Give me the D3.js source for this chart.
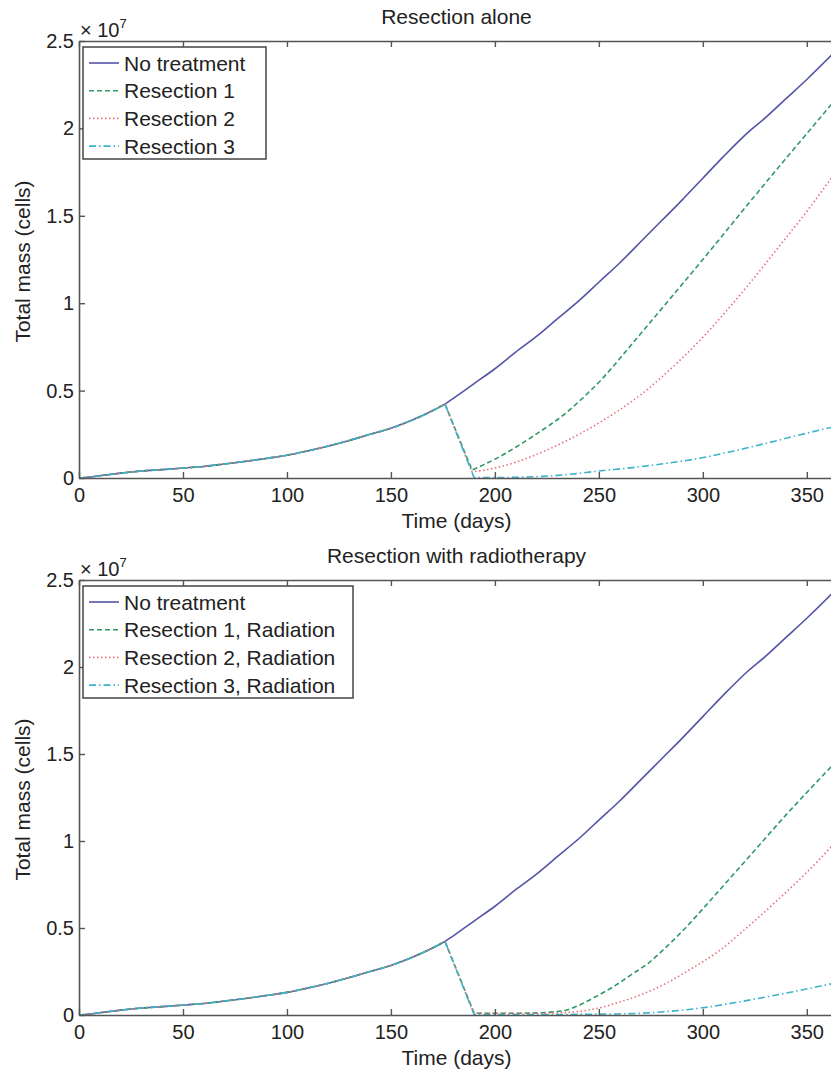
<!DOCTYPE html>
<html>
<head>
<meta charset="utf-8">
<script src="https://cdn.jsdelivr.net/npm/d3@7"></script>
<style>
  html, body { margin: 0; padding: 0; background: #fff; }
  svg { display: block; font-family: "Liberation Sans", Arial, sans-serif; }
</style>
</head>
<body>
<svg id="chart" width="831" height="1076"></svg>
<script>
// ---------------- DATA (mass in units of 1e7 cells) ----------------
const xTicks = [0, 50, 100, 150, 200, 250, 300, 350];
const yTicks = [0, 0.5, 1, 1.5, 2, 2.5];
const yTickLabels = ["0", "0.5", "1", "1.5", "2", "2.5"];

// growth before treatment (shared by all series)
const preDays = [0, 5, 10, 20, 30, 40, 50, 60, 70, 80, 90, 100, 110, 120, 130, 140, 150, 160, 170, 176];
const preMass = [0, 0.005, 0.013, 0.028, 0.04, 0.048, 0.057, 0.066, 0.08, 0.095, 0.112, 0.13, 0.155, 0.183, 0.215, 0.25, 0.285, 0.33, 0.385, 0.423];

// no treatment after day 176
const noTreatDays = [180, 190, 200, 210, 220, 230, 241, 250, 260, 270, 280, 290, 300, 310, 322, 330, 340, 350, 362];
const noTreatMass = [0.455, 0.54, 0.625, 0.72, 0.81, 0.91, 1.02, 1.12, 1.23, 1.35, 1.47, 1.59, 1.715, 1.84, 1.98, 2.06, 2.17, 2.28, 2.42];

// Panel 1: resection alone
const res1Days = [189, 195, 202, 210, 218, 226, 234, 242, 251, 263, 275, 287, 300, 311, 323, 338, 350, 362];
const res1Mass = [0.046, 0.078, 0.12, 0.176, 0.236, 0.3, 0.37, 0.455, 0.56, 0.725, 0.895, 1.065, 1.25, 1.41, 1.585, 1.8, 1.97, 2.14];
const res2Days = [189, 195, 202, 210, 218, 226, 234, 242, 250, 260, 270, 280, 290, 300, 312, 325, 337, 350, 362];
const res2Mass = [0.036, 0.045, 0.063, 0.09, 0.125, 0.165, 0.21, 0.26, 0.315, 0.39, 0.475, 0.575, 0.685, 0.805, 0.965, 1.15, 1.33, 1.525, 1.72];
const res3Days = [190, 200, 210, 220, 230, 240, 250, 265, 280, 299, 315, 331, 346, 362];
const res3Mass = [0.002, 0.002, 0.004, 0.008, 0.015, 0.026, 0.04, 0.058, 0.08, 0.114, 0.155, 0.2, 0.245, 0.29];

// Panel 2: resection with radiotherapy
const rad1Days = [190, 200, 210, 220, 228, 235, 242, 250, 258, 266, 274, 281, 290, 300, 310, 323, 340, 362];
const rad1Mass = [0.01, 0.01, 0.01, 0.012, 0.018, 0.03, 0.065, 0.115, 0.17, 0.235, 0.3, 0.375, 0.48, 0.61, 0.745, 0.92, 1.15, 1.43];
const rad2Days = [190, 200, 215, 230, 240, 250, 260, 270, 282, 295, 308, 320, 335, 350, 362];
const rad2Mass = [0.01, 0.01, 0.01, 0.012, 0.02, 0.04, 0.075, 0.115, 0.18, 0.27, 0.37, 0.49, 0.65, 0.82, 0.97];
const rad3Days = [190, 210, 230, 250, 270, 285, 299, 315, 331, 346, 362];
const rad3Mass = [0.003, 0.003, 0.003, 0.005, 0.01, 0.022, 0.04, 0.07, 0.105, 0.14, 0.18];

const titles = ["Resection alone", "Resection with radiotherapy"];
const legend1 = ["No treatment", "Resection 1", "Resection 2", "Resection 3"];
const legend2 = ["No treatment", "Resection 1, Radiation", "Resection 2, Radiation", "Resection 3, Radiation"];

// ---------------- STYLE ----------------
const styles = [
  { color: "#5454a6", dash: null },
  { color: "#2f9a66", dash: "5,3" },
  { color: "#e8707c", dash: "1.5,2.5" },
  { color: "#3db4c8", dash: "7,3,1.5,3" }
];

const zip = (d, m) => d.map((t, i) => ({ t, v: m[i] }));
const pre = zip(preDays, preMass);

const panels = [
  { top: 41, bottom: 478, title: titles[0], legend: legend1, legendW: 183,
    series: [zip(noTreatDays, noTreatMass), zip(res1Days, res1Mass), zip(res2Days, res2Mass), zip(res3Days, res3Mass)] },
  { top: 580, bottom: 1015, title: titles[1], legend: legend2, legendW: 270,
    series: [zip(noTreatDays, noTreatMass), zip(rad1Days, rad1Mass), zip(rad2Days, rad2Mass), zip(rad3Days, rad3Mass)] }
];

const svg = d3.select("#chart");
const xLeft = 79, xRight = 838;
const axisColor = "#555";
const textColor = "#222";

panels.forEach((p, pi) => {
  const x = d3.scaleLinear().domain([0, 365]).range([xLeft, xRight]);
  const y = d3.scaleLinear().domain([0, 2.5]).range([p.bottom, p.top]);
  const g = svg.append("g");

  const clipId = "clip" + pi;
  svg.append("clipPath").attr("id", clipId).append("rect")
    .attr("x", xLeft).attr("y", p.top).attr("width", xRight - xLeft).attr("height", p.bottom - p.top);

  // lines: smooth growth before day 176, straight link, smooth growth after
  const line = d3.line().x(d => x(d.t)).y(d => y(d.v)).curve(d3.curveMonotoneX);
  p.series.forEach((s, i) => {
    const dPath = line(pre) + "L" + line(s).slice(1);
    g.append("path")
      .attr("clip-path", `url(#${clipId})`)
      .attr("d", dPath)
      .attr("fill", "none")
      .attr("stroke", styles[i].color)
      .attr("stroke-width", 1.6)
      .attr("stroke-dasharray", styles[i].dash);
  });

  // axes with inward ticks
  const tickLen = 6;
  const axB = g.append("g").attr("transform", `translate(0,${p.bottom})`)
    .call(d3.axisBottom(x).tickValues(xTicks).tickSizeInner(-tickLen).tickSizeOuter(0).tickPadding(5));
  const axT = g.append("g").attr("transform", `translate(0,${p.top})`)
    .call(d3.axisTop(x).tickValues(xTicks).tickSizeInner(-tickLen).tickSizeOuter(0).tickFormat(""));
  const axL = g.append("g").attr("transform", `translate(${xLeft},0)`)
    .call(d3.axisLeft(y).tickValues(yTicks).tickSizeInner(-tickLen).tickSizeOuter(0).tickPadding(5)
      .tickFormat((d, i) => yTickLabels[i]));
  const axR = g.append("g").attr("transform", `translate(${xRight},0)`)
    .call(d3.axisRight(y).tickValues(yTicks).tickSizeInner(-tickLen).tickSizeOuter(0).tickFormat(""));

  [axB, axT, axL, axR].forEach(a => {
    a.select(".domain").attr("stroke", axisColor).attr("stroke-width", 1.6);
    a.selectAll(".tick line").attr("stroke", axisColor).attr("stroke-width", 1.4);
    a.selectAll("text").attr("fill", textColor).style("font-size", "20px")
      .style("font-family", "'Liberation Sans', Arial, sans-serif");
  });
  axB.selectAll("text").attr("dy", "0.95em");

  // x 10^7 multiplier
  const mult = g.append("text").attr("x", xLeft + 1).attr("y", p.top - 4)
    .attr("fill", textColor).style("font-size", "20px");
  mult.append("tspan").text("× 10");
  mult.append("tspan").text("7").style("font-size", "13px").attr("dy", -9);

  // title
  g.append("text").attr("x", (xLeft + xRight) / 2 - 2).attr("y", p.top - 17)
    .attr("text-anchor", "middle").attr("fill", textColor).style("font-size", "21px").text(p.title);

  // x label
  g.append("text").attr("x", (xLeft + xRight) / 2 - 2).attr("y", p.bottom + 50)
    .attr("text-anchor", "middle").attr("fill", textColor).style("font-size", "21px").text("Time (days)");

  // y label
  g.append("text").attr("transform", `translate(30,${(p.top + p.bottom) / 2 + 2}) rotate(-90)`)
    .attr("text-anchor", "middle").attr("fill", textColor).style("font-size", "21px").text("Total mass (cells)");

  // legend
  const lg = g.append("g").attr("transform", `translate(83,${p.top + 6})`);
  lg.append("rect").attr("x", 0).attr("y", 0).attr("width", p.legendW).attr("height", 112)
    .attr("fill", "#fff").attr("stroke", "#444").attr("stroke-width", 1.5);
  p.legend.forEach((name, i) => {
    const yy = 16 + i * 27.7;
    lg.append("line").attr("x1", 6).attr("x2", 36).attr("y1", yy).attr("y2", yy)
      .attr("stroke", styles[i].color).attr("stroke-width", 1.6)
      .attr("stroke-dasharray", styles[i].dash);
    lg.append("text").attr("x", 41).attr("y", yy).attr("dy", "0.36em")
      .attr("fill", textColor).style("font-size", "21px").text(name);
  });
});
</script>
</body>
</html>
